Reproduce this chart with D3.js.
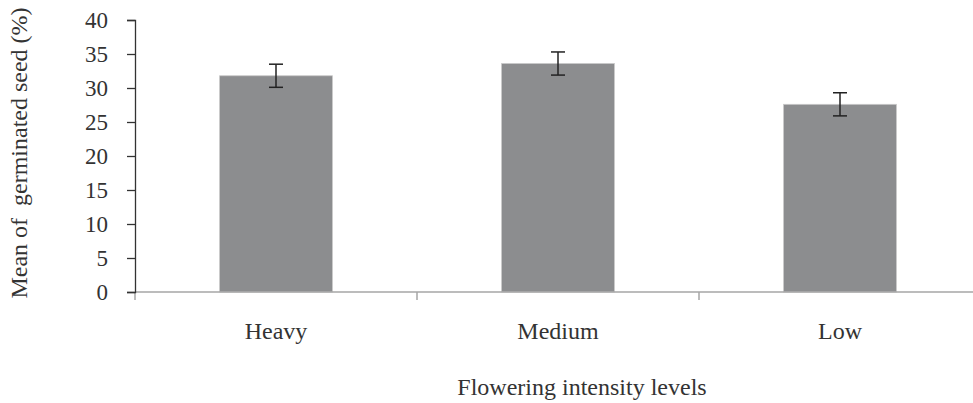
<!DOCTYPE html>
<html>
<head>
<meta charset="utf-8">
<script src="https://cdn.jsdelivr.net/npm/d3@7"></script>
<style>
  body { margin: 0; background: #fff; }
  svg text { font-family: "Liberation Serif", "Times New Roman", serif !important; fill: #333; }
</style>
</head>
<body>
<div id="chart"></div>
<script>

// data
var categories = ['Heavy', 'Medium', 'Low'];
var means = [31.8, 33.6, 27.6];
var errors = [1.7, 1.7, 1.7];
var yTicks = [0, 5, 10, 15, 20, 25, 30, 35, 40];

var FONT = '"Liberation Serif", "Times New Roman", serif';

// svg properties
var W = 973, H = 403;
var margin = { top: 20, right: -8, bottom: 111, left: 135 },
	width = W - margin.left - margin.right,
	height = H - margin.top - margin.bottom;

var svg = d3.select('#chart').append('svg')
	.attr('width', W)
	.attr('height', H)
	.attr('font-family', FONT);

var g = svg.append('g')
	.attr('transform', 'translate(' + margin.left + ',' + margin.top + ')');

//************ SCALES ************

var xScale = d3.scaleBand()
	.domain(categories)
	.range([0, width])
	.paddingInner(0.6)
	.paddingOuter(0.3);

// band edges (category tick positions)
var xEdge = d3.scalePoint()
	.domain(d3.range(categories.length + 1))
	.range([0, width]);

var yScale = d3.scaleLinear()
	.domain([0, 40])
	.range([height, 0]);

//************ BARS ************

var rows = categories.map(function (c, i) {
	return { cat: c, mean: means[i], err: errors[i] };
});

g.selectAll('.bar')
	.data(rows).enter()
	.append('rect')
	.attr('class', 'bar')
	.attr('x', function (d) { return xScale(d.cat); })
	.attr('y', function (d) { return yScale(d.mean); })
	.attr('width', xScale.bandwidth())
	.attr('height', function (d) { return height - yScale(d.mean); })
	.attr('fill', '#8c8d8f')
	.attr('stroke', '#c9c9c9')
	.attr('stroke-width', 0.8);

//************ AXES ************

// x axis (light grey)
var xAxis = g.append('g').attr('transform', 'translate(0,' + height + ')');
xAxis.append('line')
	.attr('x1', 0).attr('x2', width)
	.attr('stroke', '#a6a6a6').attr('stroke-width', 1.5);
xAxis.selectAll('.xtick')
	.data(xEdge.domain()).enter()
	.append('line')
	.attr('x1', function (d) { return xEdge(d); })
	.attr('x2', function (d) { return xEdge(d); })
	.attr('y1', 0).attr('y2', 8)
	.attr('stroke', '#a6a6a6').attr('stroke-width', 1.5);
xAxis.selectAll('.xlab')
	.data(categories).enter()
	.append('text')
	.attr('x', function (d) { return xScale(d) + xScale.bandwidth() / 2; })
	.attr('y', 47)
	.attr('text-anchor', 'middle')
	.style('font-size', '24px')
	.text(function (d) { return d; });

// y axis
var yAxis = g.append('g')
	.call(d3.axisLeft(yScale).tickValues(yTicks).tickSize(8).tickPadding(19));
yAxis.attr('font-family', FONT);
yAxis.select('.domain').attr('stroke', '#333').attr('stroke-width', 1.3);
yAxis.selectAll('.tick line').attr('stroke', '#333').attr('stroke-width', 1.3);
yAxis.selectAll('.tick text')
	.style('font-size', '23px')
	.attr('fill', '#333');

//************ ERROR BARS ************

var capW = 14;
var eb = g.selectAll('.err')
	.data(rows).enter()
	.append('g')
	.attr('class', 'err')
	.attr('transform', function (d) {
		return 'translate(' + (xScale(d.cat) + xScale.bandwidth() / 2) + ',0)';
	});
eb.append('line')
	.attr('y1', function (d) { return yScale(d.mean + d.err); })
	.attr('y2', function (d) { return yScale(d.mean - d.err); })
	.attr('stroke', '#222').attr('stroke-width', 1.5);
eb.append('line')
	.attr('x1', -capW / 2).attr('x2', capW / 2)
	.attr('y1', function (d) { return yScale(d.mean + d.err); })
	.attr('y2', function (d) { return yScale(d.mean + d.err); })
	.attr('stroke', '#222').attr('stroke-width', 1.5);
eb.append('line')
	.attr('x1', -capW / 2).attr('x2', capW / 2)
	.attr('y1', function (d) { return yScale(d.mean - d.err); })
	.attr('y2', function (d) { return yScale(d.mean - d.err); })
	.attr('stroke', '#222').attr('stroke-width', 1.5);

//************ TITLES ************

svg.append('text')
	.attr('x', 582)
	.attr('y', 395)
	.attr('text-anchor', 'middle')
	.style('font-size', '24px')
	.text('Flowering intensity levels');

svg.append('text')
	.attr('transform', 'translate(27,153) rotate(-90)')
	.attr('text-anchor', 'middle')
	.style('font-size', '24px')
	.style('white-space', 'pre')
	.text('Mean of  germinated seed (%)');

</script>
</body>
</html>
